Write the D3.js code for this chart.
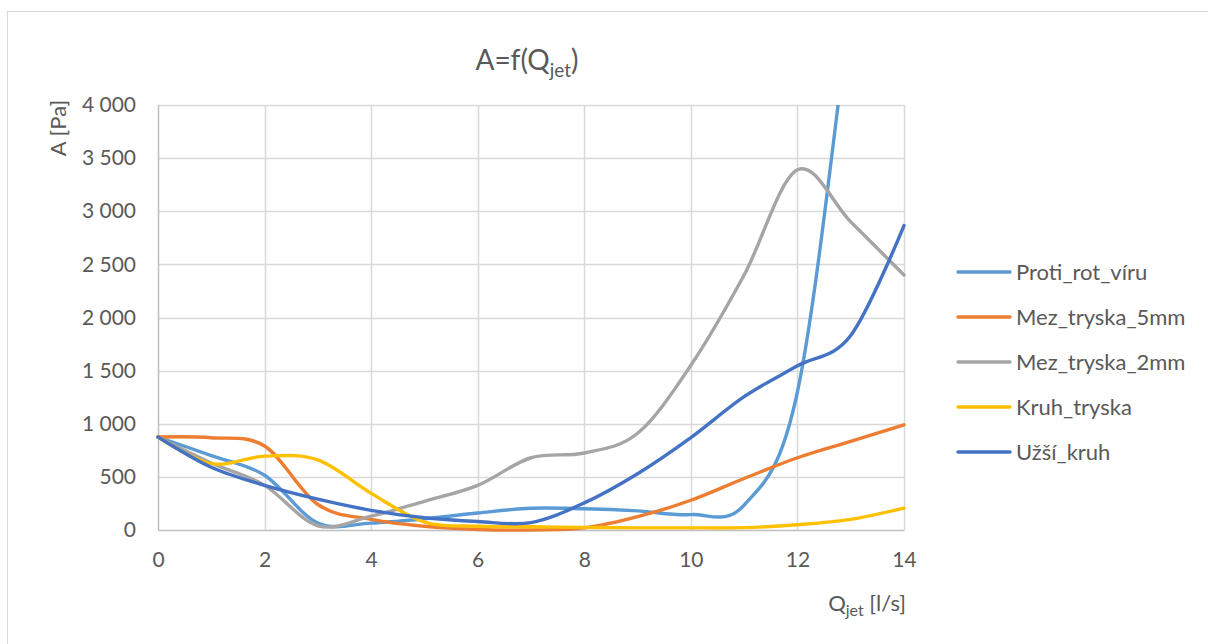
<!DOCTYPE html>
<html><head><meta charset="utf-8">
<script src="https://cdn.jsdelivr.net/npm/d3@7"></script>
<style>
body{margin:0;background:#fff;}
text{font-family:Lato,"Open Sans",sans-serif;fill:#595959;}
</style>
</head><body>
<svg id="chart" width="1208" height="644"></svg>
<script>
const xValues = [0,1,2,3,4,5,6,7,8,9,10,11,12,13,14];
const protiRotViru = [875,700,515,65,65,105,160,205,200,180,145,235,1300,4950,9000];
const mezTryska5mm = [875,868,790,240,100,35,5,0,20,125,280,485,680,835,990];
const mezTryska2mm = [875,630,420,40,130,270,420,680,725,910,1550,2400,3390,2900,2400];
const kruhTryska = [875,625,695,660,345,75,35,30,25,20,20,22,50,100,205];
const uzsiKruh = [875,590,420,290,185,115,80,70,255,530,870,1255,1545,1830,2865];
const seriesNames = ["Proti_rot_víru","Mez_tryska_5mm","Mez_tryska_2mm","Kruh_tryska","Užší_kruh"];
const seriesColors = ["#5B9BD5","#ED7D31","#A5A5A5","#FFC000","#4472C4"];
const yTicks = [0,500,1000,1500,2000,2500,3000,3500,4000];
const xTicks = [0,2,4,6,8,10,12,14];

const seriesValues = [protiRotViru,mezTryska5mm,mezTryska2mm,kruhTryska,uzsiKruh];
const svg = d3.select("#chart");
const L = 158, R = 904, T = 105, B = 530;
const x = d3.scaleLinear().domain([0,14]).range([L,R]);
const y = d3.scaleLinear().domain([0,4000]).range([B,T]);
const fmt = d3.formatLocale({decimal:",",thousands:" ",grouping:[3],currency:["",""]}).format(",");

// chart border
svg.append("rect").attr("x",7.5).attr("y",11.5).attr("width",1300).attr("height",700)
  .attr("fill","none").attr("stroke","#d9d9d9").attr("stroke-width",1);

// grid
svg.append("g").selectAll("line").data(yTicks.filter(d=>d>0)).join("line")
  .attr("x1",L).attr("x2",R).attr("y1",d=>Math.round(y(d))+0.5).attr("y2",d=>Math.round(y(d))+0.5)
  .attr("stroke","#d9d9d9").attr("stroke-width",1.5);
svg.append("g").selectAll("line").data(xTicks.filter(d=>d>0)).join("line")
  .attr("y1",T).attr("y2",B).attr("x1",d=>Math.round(x(d))+0.5).attr("x2",d=>Math.round(x(d))+0.5)
  .attr("stroke","#d9d9d9").attr("stroke-width",1.5);

// axes
const yAxis = d3.axisLeft(y).tickValues(yTicks).tickFormat(fmt).tickSize(0).tickPadding(22);
const gy = svg.append("g").attr("transform",`translate(${L},0)`).call(yAxis);
gy.select(".domain").attr("stroke","#bfbfbf").attr("stroke-width",1.5);
gy.selectAll("text").attr("font-size",21).attr("fill","#595959").style("font-family","Lato");

const xAxis = d3.axisBottom(x).tickValues(xTicks).tickSize(0).tickPadding(22);
const gx = svg.append("g").attr("transform",`translate(0,${B})`).call(xAxis);
gx.select(".domain").attr("stroke","#bfbfbf").attr("stroke-width",1.5);
gx.selectAll("text").attr("font-size",21).attr("fill","#595959").style("font-family","Lato");

// clip
svg.append("clipPath").attr("id","clip").append("rect")
  .attr("x",L-5).attr("y",T).attr("width",R-L+10).attr("height",B-T+10);

const line = d3.line().x((d,i)=>x(xValues[i])).y(d=>y(d)).curve(d3.curveCardinal.tension(0));
svg.append("g").attr("clip-path","url(#clip)").selectAll("path").data(seriesValues).join("path")
  .attr("d",d=>line(d)).attr("fill","none").attr("stroke",(d,i)=>seriesColors[i])
  .attr("stroke-width",3.4).attr("stroke-linejoin","round").attr("stroke-linecap","round");

// title
const title = svg.append("text").attr("x",527).attr("y",70).attr("text-anchor","middle").attr("font-size",28);
title.append("tspan").text("A=f(Q");
title.append("tspan").attr("font-size",19).attr("dy",7).text("jet");
title.append("tspan").attr("dy",-7).text(")");

// x axis title
const xt = svg.append("text").attr("x",906).attr("y",611).attr("text-anchor","end").attr("font-size",22);
xt.append("tspan").text("Q");
xt.append("tspan").attr("font-size",16).attr("dy",5).text("jet");
xt.append("tspan").attr("dy",-5).text(" [l/s]");

// y axis title
svg.append("text").attr("transform","translate(66,128) rotate(-90)").attr("text-anchor","middle")
  .attr("font-size",22).text("A [Pa]");

// legend
const lg = svg.append("g").selectAll("g").data(seriesNames).join("g")
  .attr("transform",(d,i)=>`translate(958,${272+i*45})`);
lg.append("line").attr("x1",0).attr("x2",52).attr("y1",0).attr("y2",0)
  .attr("stroke",(d,i)=>seriesColors[i]).attr("stroke-width",3.4).attr("stroke-linecap","round");
lg.append("text").attr("x",58).attr("y",0).attr("dy","0.36em").attr("font-size",22).text(d=>d);
</script>
</body></html>
